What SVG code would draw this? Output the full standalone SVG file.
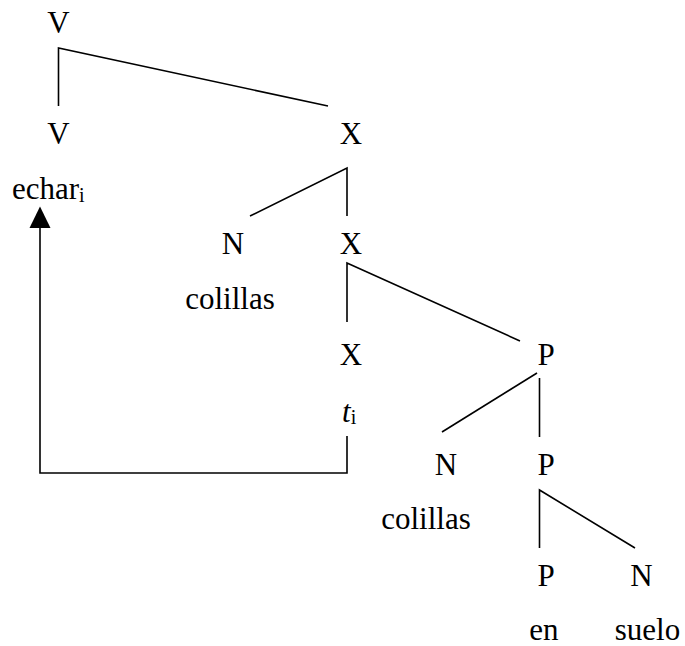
<svg xmlns="http://www.w3.org/2000/svg" width="685" height="646" viewBox="0 0 685 646">
<style>
text { font-family: 'Liberation Serif', 'DejaVu Serif', serif; font-size: 31px; fill: #000; }
.c { text-anchor: middle; }
.sub { font-size: 20px; }
.e { stroke: #000; stroke-width: 1.6; fill: none; }
</style>
<rect width="685" height="646" fill="#fff"/>
<g id="connectors">
  <path class="e" d="M58.5,106 V48 L328,106"/>
  <path class="e" d="M250,216 L347,168 V216"/>
  <path class="e" d="M347,322 V263 L520,341"/>
  <path class="e" d="M442,432 L537,373"/>
  <path class="e" d="M539.5,378 V437"/>
  <path class="e" d="M539.5,548 V490 L635,548"/>
  <path class="e" d="M347,436 V473 H40 V228"/>
  <polygon points="40,206.5 29.5,228 50.5,228" fill="#000"/>
</g>
<g id="n-V-top"><text class="c" x="58.5" y="33">V</text></g>
<g id="n-V"><text class="c" x="58.5" y="144">V</text></g>
<g id="n-echar"><text x="12" y="199">echar<tspan class="sub" dy="3">i</tspan></text></g>
<g id="n-X1"><text class="c" x="351" y="144">X</text></g>
<g id="n-N1"><text class="c" x="233" y="254">N</text></g>
<g id="n-colillas1"><text class="c" x="230" y="309">colillas</text></g>
<g id="n-X2"><text class="c" x="351" y="254">X</text></g>
<g id="n-X3"><text class="c" x="351" y="365">X</text></g>
<g id="n-t"><text x="342" y="422"><tspan font-style="italic">t</tspan><tspan class="sub" dy="2">i</tspan></text></g>
<g id="n-P1"><text class="c" x="546" y="365">P</text></g>
<g id="n-N2"><text class="c" x="446" y="475">N</text></g>
<g id="n-colillas2"><text class="c" x="426" y="529">colillas</text></g>
<g id="n-P2"><text class="c" x="546" y="475">P</text></g>
<g id="n-P3"><text class="c" x="546" y="586">P</text></g>
<g id="n-N3"><text class="c" x="641.5" y="586">N</text></g>
<g id="n-en"><text class="c" x="544" y="640">en</text></g>
<g id="n-suelo"><text class="c" x="647.5" y="640">suelo</text></g>
</svg>
